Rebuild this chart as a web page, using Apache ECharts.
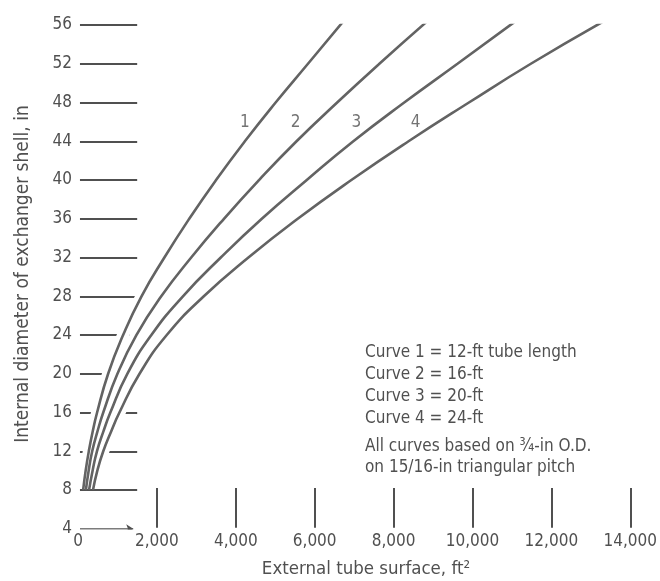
<!DOCTYPE html>
<html><head><meta charset="utf-8">
<script src="https://cdn.jsdelivr.net/npm/echarts@6/dist/echarts.min.js"></script>
<style>html,body{margin:0;padding:0;background:#fff}#c{width:660px;height:581px}</style>
</head><body><div id="c"></div>
<script>
// ---- data ----
const diameters = [8, 10, 12, 14, 16, 20, 24, 28, 32, 36, 40, 44, 48, 52, 56.3];
const curve1 = [130, 194, 274, 370, 484, 764, 1144, 1610, 2190, 2820, 3500, 4230, 5010, 5830, 6710];
const curve2 = [200, 270, 360, 490, 640, 1000, 1480, 2110, 2870, 3700, 4590, 5540, 6570, 7640, 8830];
const curve3 = [280, 370, 480, 640, 820, 1250, 1860, 2660, 3620, 4660, 5800, 6980, 8270, 9620, 11060];
const curve4 = [380, 490, 640, 835, 1050, 1560, 2250, 3190, 4320, 5570, 6930, 8380, 9910, 11480, 13290];
const curveNames = ['1', '2', '3', '4'];
const yTicks = [8, 12, 16, 20, 24, 28, 32, 36, 40, 44, 48, 52, 56];
const xTicks = [2000, 4000, 6000, 8000, 10000, 12000, 14000];
const legendLines = ['Curve 1 = 12-ft tube length', 'Curve 2 = 16-ft', 'Curve 3 = 20-ft', 'Curve 4 = 24-ft'];
const noteLines = ['All curves based on \u00BE-in O.D.', 'on 15/16-in triangular pitch'];
const xTitle = 'External tube surface, ft\u00B2';
const yTitle = 'Internal diameter of exchanger shell, in';

// ---- styling ----
const FONT = '"Liberation Sans Narrow", "DejaVu Sans Condensed", "Liberation Sans", Arial, sans-serif';
const INK = '#505050';
const CURVE = '#636363';
const curves = [curve1, curve2, curve3, curve4];
const labelIdx = diameters.indexOf(44);
const labelOffsets = [[0, -19], [-1, -19], [3, -19], [7, -19]];
const stubStart = 50, stubEnd = 1500;   // horizontal guide stubs (data units)
const tickLow = 4.1, tickHigh = 8.2;     // vertical x ticks (data units)

const chart = echarts.init(document.getElementById('c'), null, {renderer: 'canvas'});

const series = [];
series.push({
  type: 'lines', coordinateSystem: 'cartesian2d', silent: true, z: 1,
  lineStyle: {color: INK, width: 2, opacity: 1},
  data: yTicks.map(d => ({coords: [[stubStart, d], [stubEnd, d]]}))
    .concat(xTicks.map(x => ({coords: [[x, tickLow], [x, tickHigh]]})))
});
series.push({
  type: 'lines', coordinateSystem: 'cartesian2d', silent: true, z: 1,
  symbol: ['none', 'arrow'], symbolSize: 7,
  lineStyle: {color: INK, width: 1.6, opacity: 1},
  data: [{coords: [[stubStart, 4], [1400, 4]]}]
});
curves.forEach(c => {
  series.push({
    type: 'line', silent: true, z: 2, symbol: 'none', smooth: true,
    lineStyle: {color: '#fff', width: 12},
    data: c.map((v, i) => [v, diameters[i]]).slice(1)
  });
});
curves.forEach((c, k) => {
  series.push({
    type: 'line', name: 'Curve ' + curveNames[k], silent: true, z: 3, symbol: 'none', smooth: true,
    lineStyle: {color: CURVE, width: 2.6},
    data: c.map((v, i) => [v, diameters[i]])
  });
});
series.push({
  type: 'scatter', silent: true, z: 4, symbolSize: 1,
  itemStyle: {color: 'rgba(0,0,0,0)'},
  label: {show: true, position: 'inside', color: INK, fontFamily: FONT, fontSize: 17},
  data: curves.map((c, k) => ({
    value: [c[labelIdx], diameters[labelIdx]],
    label: {formatter: curveNames[k], offset: labelOffsets[k]}
  }))
});

const graphics = [];
legendLines.forEach((t, i) => {
  graphics.push({type: 'text', x: 365, y: 353 + i * 21.7,
    style: {text: t, fill: INK, font: '17px ' + FONT, verticalAlign: 'middle'}});
});
noteLines.forEach((t, i) => {
  graphics.push({type: 'text', x: 365, y: 447 + i * 20.5,
    style: {text: t, fill: INK, font: '17px ' + FONT, verticalAlign: 'middle'}});
});
graphics.push({type: 'text', x: 366, y: 569,
  style: {text: xTitle, fill: INK, font: '18.5px ' + FONT, align: 'center', verticalAlign: 'middle'}});
graphics.push({type: 'text', x: 23, y: 274, rotation: Math.PI / 2,
  style: {text: yTitle, fill: INK, font: '19px ' + FONT, align: 'center', verticalAlign: 'middle'}});

chart.setOption({
  backgroundColor: '#fff',
  animation: false,
  grid: {left: 78, right: 29, top: 25, bottom: 52.2},
  xAxis: {
    type: 'value', min: 0, max: 14000, interval: 2000,
    axisLine: {show: false}, axisTick: {show: false}, splitLine: {show: false},
    axisLabel: {color: INK, fontFamily: FONT, fontSize: 17, margin: 4,
      formatter: v => v.toLocaleString('en-US')}
  },
  yAxis: {
    type: 'value', min: 4, max: 56, interval: 4,
    axisLine: {show: false}, axisTick: {show: false}, splitLine: {show: false},
    axisLabel: {color: INK, fontFamily: FONT, fontSize: 17, margin: 6}
  },
  series: series,
  graphic: graphics
});
</script></body></html>
